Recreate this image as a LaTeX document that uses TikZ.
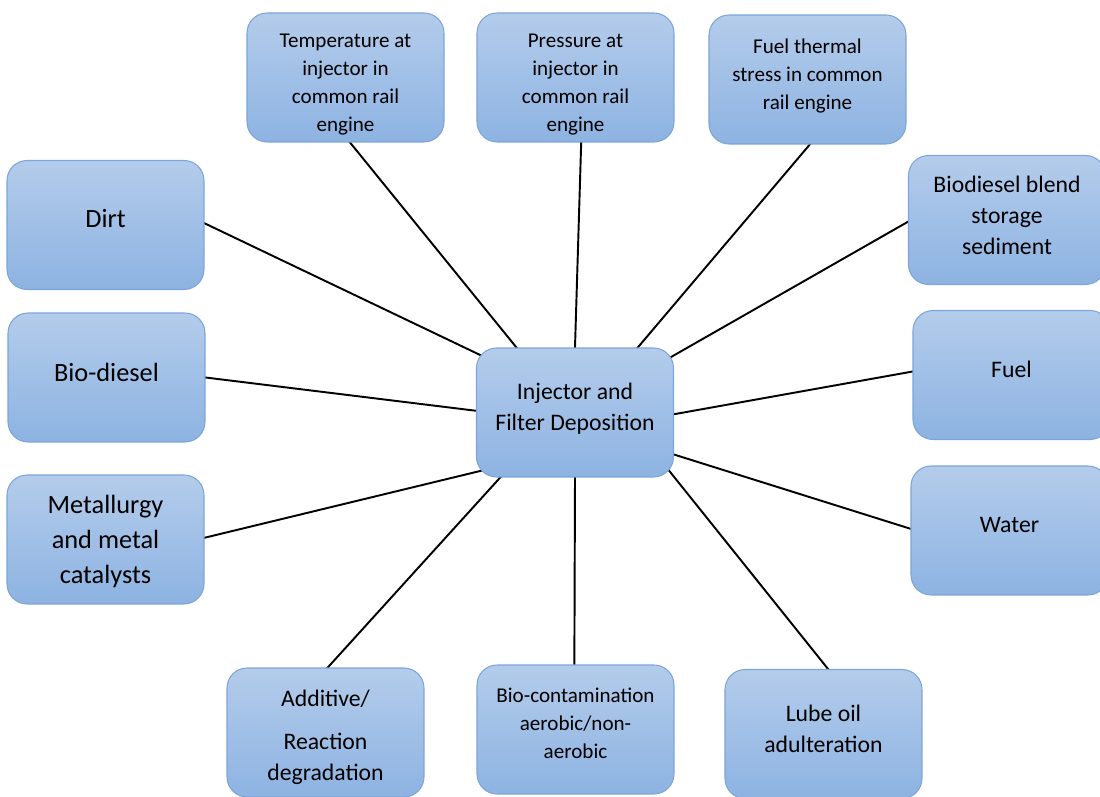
\documentclass[tikz,border=0pt]{standalone}
\usepackage{fontspec}
\setmainfont{Carlito}
\usepackage{tikz}
\usetikzlibrary{backgrounds}

\definecolor{boxtop}{RGB}{180,204,235}
\definecolor{boxbot}{RGB}{141,179,226}
\definecolor{boxline}{RGB}{125,165,216}

\tikzset{
  box/.style={draw=boxline, line width=0.6pt, rounded corners=0.4cm,
    top color=boxtop, bottom color=boxbot, minimum width=3.94cm,
    minimum height=2.58cm, align=center, inner sep=2pt},
  bigtxt/.style={font=\fontsize{15}{20}\selectfont},
  midtxt/.style={font=\fontsize{13.5}{17.6}\selectfont},
  smalltxt/.style={font=\fontsize{12}{15.9}\selectfont},
  lift/.style={text depth=#1},
  sink/.style={text depth=0pt, text height=#1},
  link/.style={line width=1.1pt, shorten <=-3pt, shorten >=-10pt},
}

\begin{document}
\begin{tikzpicture}[x=0.02cm,y=-0.02cm]
  \clip (0,0) rectangle (1100,797);

  % hub
  \node[box,midtxt,lift=6.8pt] (ctr) at (575,412.5) {Injector and\\Filter Deposition};

  % top row
  \node[box,smalltxt,sink=61pt] (temp) at (345.5,77.5) {Temperature at\\injector in\\common rail\\engine};
  \node[box,smalltxt,sink=61pt] (pres) at (575.5,77.5) {Pressure at\\injector in\\common rail\\engine};
  \node[box,smalltxt,lift=6.1pt] (stress) at (807.5,79.5) {Fuel thermal\\stress in common\\rail engine};

  % left column
  \node[box,bigtxt,lift=7.4pt] (dirt) at (105.5,225) {Dirt};
  \node[box,bigtxt,lift=5.6pt] (biod) at (106.5,377.5) {Bio-diesel};
  \node[box,bigtxt,lift=0pt] (metal) at (105.5,539.5) {Metallurgy\\and metal\\catalysts};

  % right column
  \node[box,midtxt,lift=5.6pt] (blend) at (1007,220) {Biodiesel blend\\storage\\sediment};
  \node[box,midtxt,lift=6.8pt] (fuel) at (1011.5,375) {Fuel};
  \node[box,midtxt,lift=6.8pt] (water) at (1009.5,530.5) {Water};

  % bottom row
  \node[box,midtxt,sink=54.5pt] (addit) at (325.5,732.5) {Additive/\\[7pt]Reaction\\degradation};
  \node[box,smalltxt,lift=7.4pt] (bioc) at (575.5,729.5) {Bio-contamination\\aerobic/non-\\aerobic};
  \node[box,midtxt,lift=6.2pt] (lube) at (823.5,734) {Lube oil\\adulteration};

  \begin{scope}[on background layer]
    \draw[link] (temp.274)   -- (ctr.132);
    \draw[link] (pres.275)   -- (ctr.90);
    \draw[link] (stress.272) -- (ctr.46);
    \draw[link] (dirt.1)     -- (ctr.149);
    \draw[link] (biod.0)     -- (ctr.179);
    \draw[link] (metal.1)    -- (ctr.211);
    \draw[link] (blend.181)  -- (ctr.30);
    \draw[link] (fuel.178)   -- (ctr.359);
    \draw[link] (water.179)  -- (ctr.337);
    \draw[link] (addit.88)   -- (ctr.221);
    \draw[link] (bioc.91)    -- (ctr.270);
    \draw[link] (lube.86)    -- (ctr.327);
  \end{scope}
\end{tikzpicture}
\end{document}
